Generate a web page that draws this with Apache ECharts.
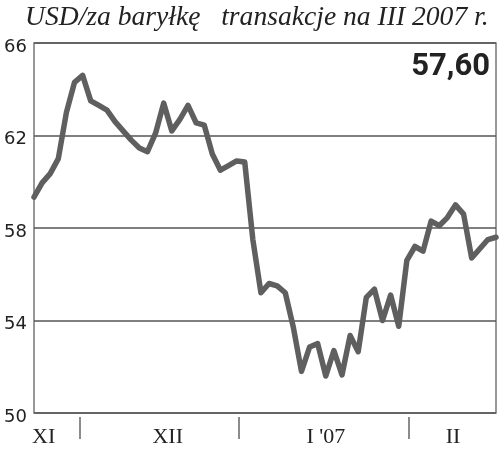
<!DOCTYPE html>
<html><head><meta charset="utf-8">
<script src="https://cdn.jsdelivr.net/npm/echarts@6/dist/echarts.min.js"></script>
<style>html,body{margin:0;padding:0;background:#fff}#c{width:500px;height:452px}</style>
</head><body><div id="c"></div>
<script>
const titleText = 'USD/za baryłkę   transakcje na III 2007 r.';
const lastValueText = '57,60';
const prices = [59.34,59.95,60.35,61.0,63.0,64.3,64.6,63.5,63.3,63.1,62.6,62.2,61.8,61.46,61.3,62.1,63.4,62.2,62.7,63.3,62.55,62.45,61.2,60.5,60.7,60.9,60.85,57.5,55.2,55.6,55.5,55.2,53.7,51.8,52.85,53.0,51.6,52.7,51.65,53.35,52.65,55.0,55.35,54.0,55.1,53.75,56.6,57.2,57.0,58.3,58.1,58.45,59.0,58.6,56.7,57.1,57.5,57.6];
const monthNames = ['XI','XII',"I '07",'II'];
const monthLabelPos = [1.2,16.5,36,51.7];
const monthBoundaries = [5.7,25.3,46.2];
const yTicks = [50,54,58,62,66];

const chart = echarts.init(document.getElementById('c'), null, {renderer:'canvas'});
const data = prices.map((v,i)=>[i,v]);
chart.setOption({
  animation:false,
  backgroundColor:'#fff',
  title:[{
    text:titleText, left:20, top:-1,
    textStyle:{fontFamily:'Liberation Serif',fontStyle:'italic',fontWeight:'normal',fontSize:27.6,color:'#222'}
  },{
    text:lastValueText, right:5, top:47,
    textStyle:{fontFamily:'Roboto',fontWeight:'bold',fontSize:31,color:'#222'}
  }],
  grid:{left:34,right:4,top:43,bottom:39,show:true,borderColor:'#777',borderWidth:1.5,backgroundColor:'transparent'},
  xAxis:[{
    type:'value',min:0,max:prices.length-1,
    axisLine:{show:false},axisTick:{show:false},axisLabel:{show:false},splitLine:{show:false}
  },{
    type:'value',min:0,max:prices.length-1,position:'bottom',offset:4,
    axisLine:{show:false},
    axisTick:{show:true,length:22,customValues:monthBoundaries,lineStyle:{color:'#666',width:1.5}},
    axisLabel:{show:true,customValues:monthLabelPos,margin:9,
      formatter:(v)=>{const k=monthLabelPos.indexOf(v);return k>=0?monthNames[k]:'';},
      fontFamily:'Liberation Serif',fontSize:22,color:'#222'},
    splitLine:{show:false}
  }],
  yAxis:{
    type:'value',min:yTicks[0],max:yTicks[yTicks.length-1],interval:4,
    axisLine:{show:false},axisTick:{show:false},
    axisLabel:{margin:7,fontFamily:'DejaVu Sans',fontSize:18,color:'#222',verticalAlign:'top',
      lineHeight:8,formatter:(v)=>String(v)},
    splitLine:{show:true,lineStyle:{color:'#555',width:1.5}}
  },
  series:[{
    type:'line',data:data,xAxisIndex:0,showSymbol:false,symbol:'none',
    lineStyle:{color:'#5f5f5f',width:5.5,join:'round',cap:'round'}
  }]
});
</script></body></html>
